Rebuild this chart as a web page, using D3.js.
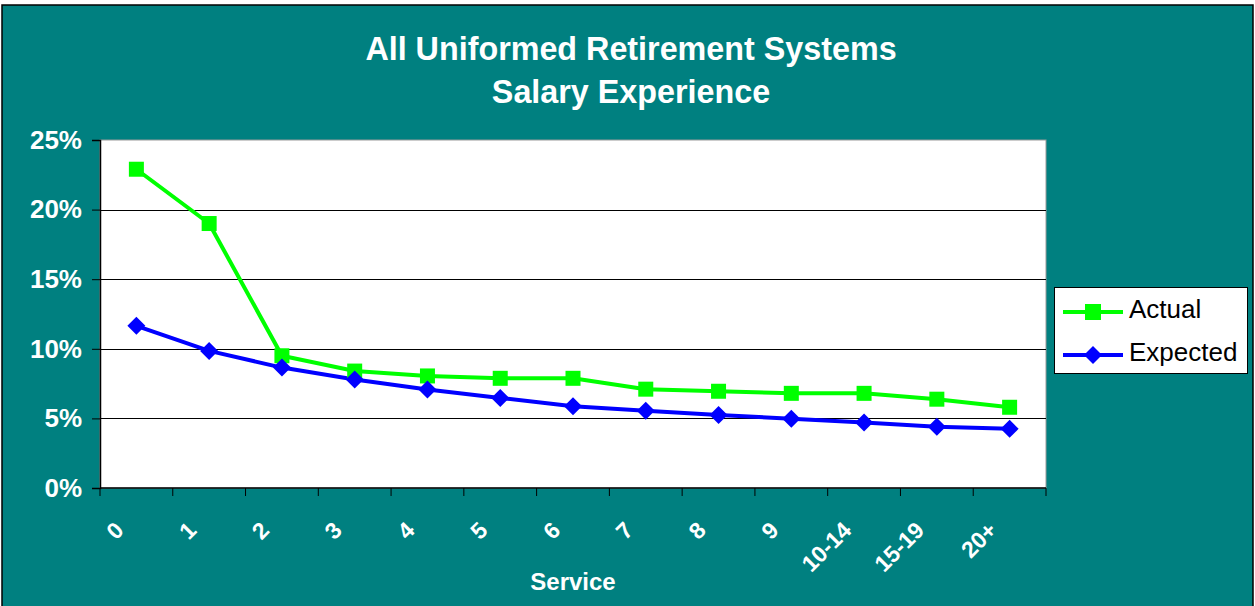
<!DOCTYPE html>
<html>
<head>
<meta charset="utf-8">
<script src="https://cdn.jsdelivr.net/npm/d3@7"></script>
<style>
  html, body { margin: 0; padding: 0; background: #ffffff; }
  svg { display: block; }
  text { font-family: Arial, "Liberation Sans", sans-serif; }
</style>
</head>
<body>
<svg id="chart" width="1255" height="606"></svg>
<script>
const categories = ["0", "1", "2", "3", "4", "5", "6", "7", "8", "9", "10-14", "15-19", "20+"];
const actual   = [22.9, 19.0, 9.5, 8.4, 8.05, 7.88, 7.88, 7.1, 6.95, 6.8, 6.8, 6.38, 5.8];
const expected = [11.65, 9.85, 8.65, 7.8, 7.07, 6.47, 5.87, 5.55, 5.25, 4.97, 4.7, 4.4, 4.25];
const yTicks = [0, 5, 10, 15, 20, 25];
const seriesNames = ["Actual", "Expected"];
const titleLines = ["All Uniformed Retirement Systems", "Salary Experience"];
const xTitle = "Service";

const svg = d3.select("#chart");
const W = 1255, H = 606;

// background
svg.append("rect").attr("x", 2).attr("y", 5).attr("width", W - 4).attr("height", H)
  .attr("fill", "#008080").attr("stroke", "#000").attr("stroke-width", 1.5);

const plot = { left: 100, right: 1046, top: 140, bottom: 488 };

const x = d3.scaleBand().domain(categories).range([plot.left, plot.right]);
const y = d3.scaleLinear().domain([0, 25]).range([plot.bottom, plot.top]);

// plot area
svg.append("rect").attr("x", plot.left).attr("y", plot.top)
  .attr("width", plot.right - plot.left).attr("height", plot.bottom - plot.top)
  .attr("fill", "#ffffff").attr("stroke", "#9a9a9a").attr("stroke-width", 1);

// gridlines
svg.append("g").selectAll("line").data(yTicks.filter(d => d > 0 && d < 25)).join("line")
  .attr("x1", plot.left).attr("x2", plot.right)
  .attr("y1", d => Math.round(y(d)) + 0.5).attr("y2", d => Math.round(y(d)) + 0.5)
  .attr("stroke", "#000").attr("stroke-width", 1);

// y axis
const yAxis = d3.axisLeft(y).tickValues(yTicks).tickFormat(d => d + "%").tickSize(8).tickPadding(10);
const yg = svg.append("g").attr("transform", `translate(${plot.left},0)`).call(yAxis);
yg.select(".domain").attr("stroke", "#000").attr("stroke-width", 1.5);
yg.selectAll(".tick line").attr("stroke", "#000");
yg.selectAll(".tick text").attr("fill", "#fff").attr("font-size", 26).attr("font-weight", "bold")
  .attr("font-family", "Arial, 'Liberation Sans', sans-serif");

// x axis (ticks between categories)
const xg = svg.append("g");
xg.append("line").attr("x1", plot.left).attr("x2", plot.right)
  .attr("y1", plot.bottom).attr("y2", plot.bottom).attr("stroke", "#000").attr("stroke-width", 1.5);
const edges = categories.map(c => x(c)).concat([x(categories[categories.length - 1]) + x.bandwidth()]);
xg.selectAll("line.tk").data(edges).join("line").attr("class", "tk")
  .attr("x1", d => d).attr("x2", d => d).attr("y1", plot.bottom).attr("y2", plot.bottom + 8)
  .attr("stroke", "#000").attr("stroke-width", 1);
xg.selectAll("text").data(categories).join("text")
  .attr("transform", d => `translate(${x(d) + x.bandwidth() / 2 - 17},526) rotate(-45)`)
  .attr("text-anchor", "end").attr("dy", "0.35em")
  .attr("fill", "#fff").attr("font-size", 23).attr("font-weight", "bold")
  .text(d => d);

// axis title
svg.append("text").attr("x", (plot.left + plot.right) / 2).attr("y", 590)
  .attr("text-anchor", "middle").attr("fill", "#fff").attr("font-size", 24).attr("font-weight", "bold")
  .text(xTitle);

// title
svg.append("g").selectAll("text").data(titleLines).join("text")
  .attr("x", 631).attr("y", (d, i) => 60 + i * 43)
  .attr("text-anchor", "middle").attr("fill", "#fff").attr("font-size", 32.3).attr("font-weight", "bold")
  .text(d => d);

// lines
const cx = (d, i) => x(categories[i]) + x.bandwidth() / 2;
const line = d3.line().x((d, i) => cx(d, i)).y(d => y(d));
const colors = ["#00ff00", "#0000ff"];
const data = [actual, expected];

data.forEach((vals, s) => {
  svg.append("path").datum(vals).attr("d", line)
    .attr("fill", "none").attr("stroke", colors[s]).attr("stroke-width", 4).attr("stroke-linejoin", "round");
});

const sq = 15, dm = 9;
svg.append("g").selectAll("rect").data(actual).join("rect")
  .attr("x", (d, i) => cx(d, i) - sq / 2).attr("y", d => y(d) - sq / 2)
  .attr("width", sq).attr("height", sq).attr("fill", colors[0]);
svg.append("g").selectAll("path").data(expected).join("path")
  .attr("d", (d, i) => {
    const px = cx(d, i), py = y(d);
    return `M${px},${py - dm}L${px + dm},${py}L${px},${py + dm}L${px - dm},${py}Z`;
  })
  .attr("fill", colors[1]);

// legend
const lg = svg.append("g");
lg.append("rect").attr("x", 1054.5).attr("y", 287.5).attr("width", 193).attr("height", 86)
  .attr("fill", "#fff").attr("stroke", "#000").attr("stroke-width", 1);
const rows = [312, 355];
seriesNames.forEach((name, i) => {
  const ry = rows[i];
  lg.append("line").attr("x1", 1063).attr("x2", 1123).attr("y1", ry).attr("y2", ry)
    .attr("stroke", colors[i]).attr("stroke-width", 4);
  if (i === 0) {
    lg.append("rect").attr("x", 1093 - 8).attr("y", ry - 8).attr("width", 16).attr("height", 16).attr("fill", colors[0]);
  } else {
    lg.append("path").attr("d", `M1093,${ry - 9}L1102,${ry}L1093,${ry + 9}L1084,${ry}Z`).attr("fill", colors[1]);
  }
  lg.append("text").attr("x", 1129).attr("y", ry + 5.5)
    .attr("fill", "#000").attr("font-size", 26).text(name);
});
</script>
</body>
</html>
